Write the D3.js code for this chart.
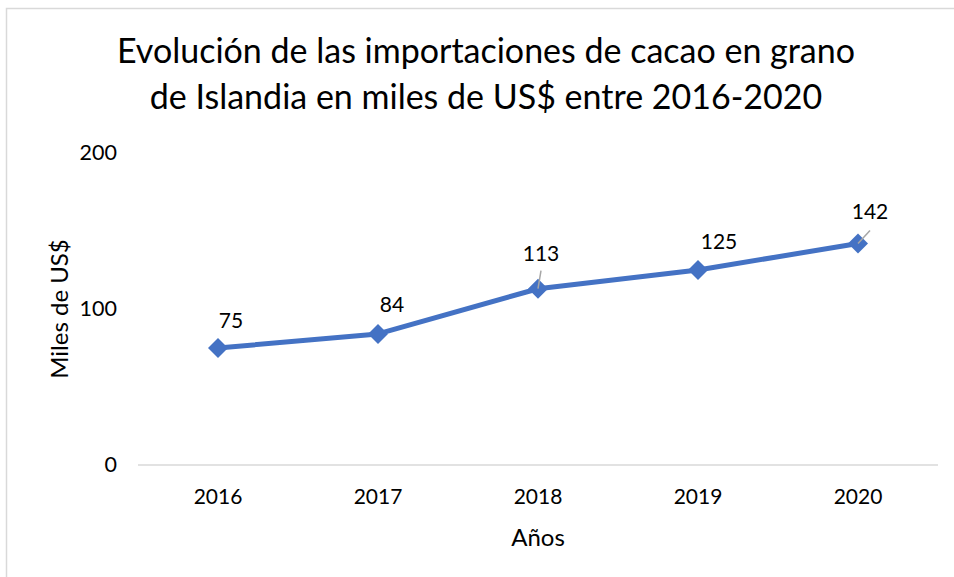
<!DOCTYPE html>
<html>
<head>
<meta charset="utf-8">
<script src="https://cdn.jsdelivr.net/npm/d3@7"></script>
<style>
  body { margin: 0; background: #fff; }
  text { font-family: Lato, "Open Sans", sans-serif; fill: #000; }
</style>
</head>
<body>
<svg></svg>
<script>
const width = 954;
const height = 577;

const years = ['2016', '2017', '2018', '2019', '2020'];
const imports = [75, 84, 113, 125, 142];
const yTicks = [0, 100, 200];
const titleLines = [
    'Evolución de las importaciones de cacao en grano',
    'de Islandia en miles de US$ entre 2016-2020'
];

const margin = { top: 153, right: 16, bottom: 112, left: 138 };

const svg = d3.select('svg')
    .attr('width', width)
    .attr('height', height);

// chart border
svg.append('rect')
    .attr('x', 6.5)
    .attr('y', 8.5)
    .attr('width', 960)
    .attr('height', 600)
    .attr('fill', 'none')
    .attr('stroke', '#d9d9d9')
    .attr('stroke-width', 1.5);

const x = d3.scaleBand()
    .domain(years)
    .range([margin.left, width - margin.right]);

const y = d3.scaleLinear()
    .domain([0, 200])
    .range([height - margin.bottom, margin.top]);

svg.append('g')
    .selectAll('text')
    .data(titleLines)
    .join('text')
        .attr('x', 486)
        .attr('y', (d, i) => 63 + i * 46)
        .attr('text-anchor', 'middle')
        .style('font-size', '34px')
        .text(d => d);

// y ticks
svg.append('g')
    .selectAll('text')
    .data(yTicks)
    .join('text')
        .attr('x', 117)
        .attr('y', d => y(d) + 7)
        .attr('text-anchor', 'end')
        .style('font-size', '21.5px')
        .text(d => d);

// baseline
svg.append('line')
    .attr('x1', x.range()[0])
    .attr('x2', x.range()[1])
    .attr('y1', y(0))
    .attr('y2', y(0))
    .attr('stroke', '#d9d9d9')
    .attr('stroke-width', 1.5);

// x ticks
svg.append('g')
    .selectAll('text')
    .data(years)
    .join('text')
        .attr('x', d => x(d) + x.bandwidth() / 2)
        .attr('y', 504)
        .attr('text-anchor', 'middle')
        .style('font-size', '21px')
        .text(d => d);

svg.append('text')
    .attr('x', x(years[2]) + x.bandwidth() / 2)
    .attr('y', 546)
    .attr('text-anchor', 'middle')
    .style('font-size', '24px')
    .text('Años');

svg.append('text')
    .attr('transform', `translate(68, ${y(100)}) rotate(-90)`)
    .attr('text-anchor', 'middle')
    .style('font-size', '24px')
    .text('Miles de US$');

const points = years.map((yr, i) => ({
    year: yr,
    value: imports[i],
    cx: x(yr) + x.bandwidth() / 2,
    cy: y(imports[i])
}));

const line = d3.line()
    .x(d => d.cx)
    .y(d => d.cy);

svg.append('path')
    .datum(points)
    .attr('d', line)
    .attr('fill', 'none')
    .attr('stroke', '#4472c4')
    .attr('stroke-width', 5)
    .attr('stroke-linejoin', 'round');

svg.append('g')
    .selectAll('path')
    .data(points)
    .join('path')
        .attr('d', d3.symbol(d3.symbolSquare, 200))
        .attr('transform', d => `translate(${d.cx},${d.cy}) rotate(45)`)
        .attr('fill', '#4472c4');

// data labels, offsets nudged like Excel did
const labelOffsets = [[13, -20], [14, -22], [3, -28], [21, -21], [12, -24]];

// leader lines where the labels got pushed
svg.append('line')
    .attr('x1', points[2].cx + 3).attr('y1', points[2].cy - 18)
    .attr('x2', points[2].cx).attr('y2', points[2].cy)
    .attr('stroke', '#a6a6a6').attr('stroke-width', 1.5);
svg.append('line')
    .attr('x1', points[4].cx + 12).attr('y1', points[4].cy - 13)
    .attr('x2', points[4].cx).attr('y2', points[4].cy)
    .attr('stroke', '#a6a6a6').attr('stroke-width', 1.5);

svg.append('g')
    .selectAll('text')
    .data(points)
    .join('text')
        .attr('x', (d, i) => d.cx + labelOffsets[i][0])
        .attr('y', (d, i) => d.cy + labelOffsets[i][1])
        .attr('text-anchor', 'middle')
        .style('font-size', '21px')
        .text(d => d.value);
</script>
</body>
</html>
